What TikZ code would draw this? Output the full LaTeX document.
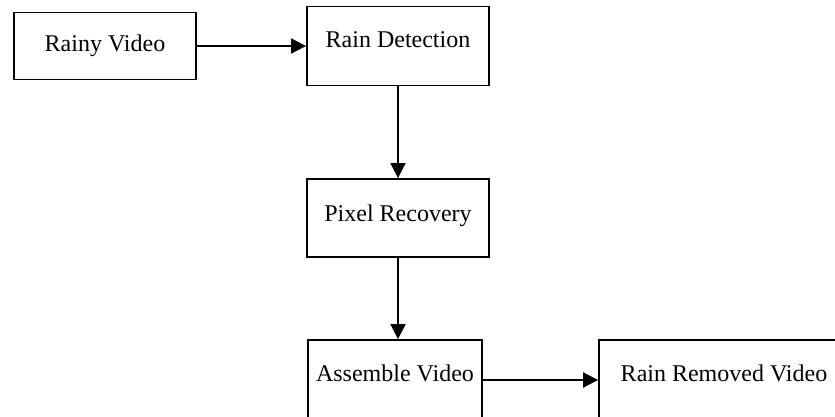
\documentclass[tikz,border=0pt]{standalone}
\usepackage{fontspec}
\setmainfont{Liberation Serif}
\usetikzlibrary{arrows.meta,positioning}
\tikzset{
    stage/.style={
        rectangle,
        draw,
        line width=1.8pt,
        align=center,
        minimum height=79pt,
        font=\fontsize{24}{28}\selectfont
    },
    flow/.style={line width=1.8pt,-{Triangle[length=15pt,width=15pt]}}
}

\begin{document}
\begin{tikzpicture}[x=1pt,y=-1pt]
    \useasboundingbox (0,0) rectangle (835,416);
    \clip (0,0) rectangle (835,416);

    \node[stage, minimum width=182pt, minimum height=67pt] (rainy) at (105,46) {Rainy Video};
    \node[stage, minimum width=182pt, text depth=12pt] (detect) at (398,46) {Rain Detection};
    \node[stage, minimum width=182pt, minimum height=78pt, text depth=10pt] (recover) at (398,218) {Pixel Recovery};
    \node[stage, minimum width=174pt, minimum height=80pt, text depth=14pt] (assemble) at (395,380) {Assemble Video};
    \node[stage, minimum width=250pt, minimum height=80pt, text depth=14pt] (removed) at (724,380) {Rain Removed Video};

    % main flow
    \draw[flow] (rainy.east) -- (detect.west |- rainy.east);
    \draw[flow] (detect.south) -- (detect.south |- recover.north);
    \draw[flow] (recover.south) -- (recover.south |- assemble.north);
    \draw[flow] (assemble.east) -- (removed.west |- assemble.east);

\end{tikzpicture}
\end{document}
